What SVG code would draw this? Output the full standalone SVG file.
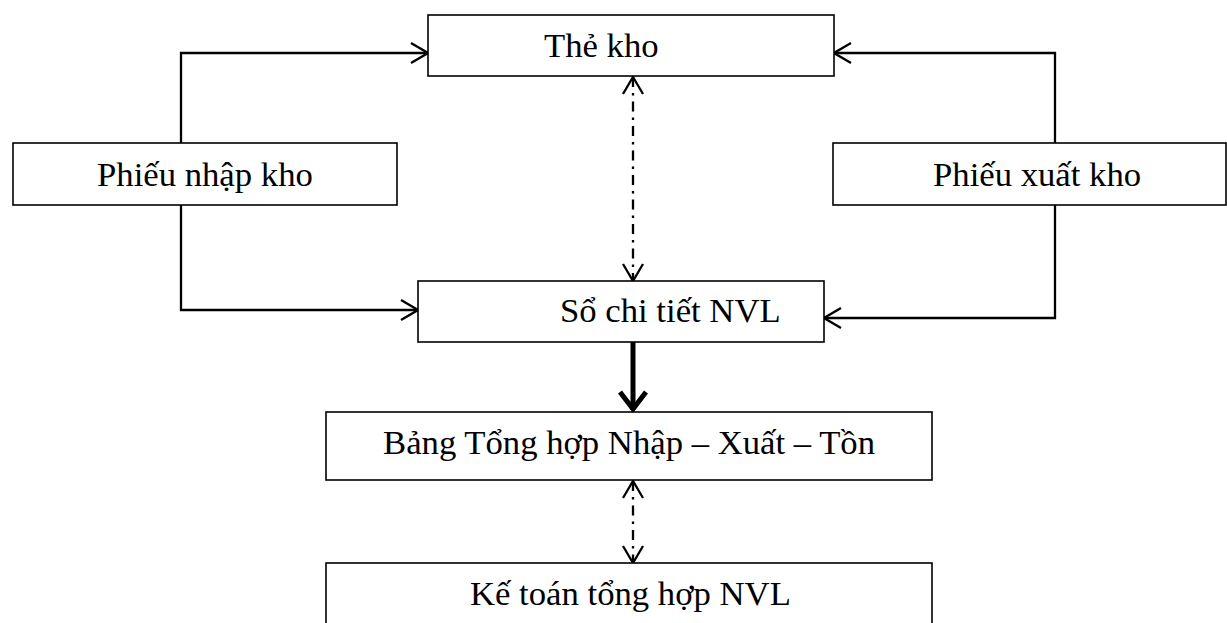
<svg xmlns="http://www.w3.org/2000/svg" width="1227" height="623" viewBox="0 0 1227 623">
  <style>
    .box { fill: #ffffff; stroke: #000000; stroke-width: 1.6; }
    .lbl { font-family: "Liberation Serif", "Times New Roman", serif; font-size: 34.7px; fill: #000000; }
    .conn { fill: none; stroke: #000000; stroke-width: 2.3; }
    .dash { stroke-dasharray: 10 6 2.5 6; }
    .bold { fill: none; stroke: #000000; stroke-width: 5; }
  </style>
  <defs>
    <marker id="arr" markerUnits="userSpaceOnUse" viewBox="0 0 20 24" markerWidth="20" markerHeight="24" refX="18" refY="12" orient="auto-start-reverse">
      <path d="M 1 2 L 18 12 L 1 22" fill="none" stroke="#000000" stroke-width="2.3" stroke-dasharray="none"/>
    </marker>
    <marker id="arrBold" markerUnits="userSpaceOnUse" viewBox="0 0 24 32" markerWidth="24" markerHeight="32" refX="21" refY="16" orient="auto">
      <path d="M 3 3 L 20 16 L 3 29" fill="none" stroke="#000000" stroke-width="5" stroke-linejoin="miter"/>
    </marker>
  </defs>

  <g id="connectors">
    <path class="conn" d="M 181 143 V 53 H 428" marker-end="url(#arr)"/>
    <path class="conn" d="M 181 205 V 310 H 418" marker-end="url(#arr)"/>
    <path class="conn" d="M 1055 143 V 53 H 834" marker-end="url(#arr)"/>
    <path class="conn" d="M 1055 205 V 318 H 824" marker-end="url(#arr)"/>
    <path class="conn dash" d="M 633 77 V 281" marker-start="url(#arr)" marker-end="url(#arr)"/>
    <path class="bold" d="M 633 342 V 410" marker-end="url(#arrBold)"/>
    <path class="conn dash" d="M 633 481 V 563" marker-start="url(#arr)" marker-end="url(#arr)"/>
  </g>

  <g id="the-kho">
    <rect class="box" x="428" y="15" width="406" height="61"/>
    <text class="lbl" x="544" y="57">Thẻ kho</text>
  </g>
  <g id="phieu-nhap-kho">
    <rect class="box" x="13" y="143" width="384" height="62"/>
    <text class="lbl" x="97" y="186">Phiếu nhập kho</text>
  </g>
  <g id="phieu-xuat-kho">
    <rect class="box" x="833" y="143" width="393" height="62"/>
    <text class="lbl" x="933" y="186">Phiếu xuất kho</text>
  </g>
  <g id="so-chi-tiet-nvl">
    <rect class="box" x="418" y="281" width="406" height="61"/>
    <text class="lbl" x="560" y="322">Sổ chi tiết NVL</text>
  </g>
  <g id="bang-tong-hop">
    <rect class="box" x="326" y="412" width="606" height="68"/>
    <text class="lbl" x="383" y="454">Bảng Tổng hợp Nhập – Xuất – Tồn</text>
  </g>
  <g id="ke-toan-tong-hop">
    <rect class="box" x="326" y="563" width="606" height="70"/>
    <text class="lbl" x="470" y="605">Kế toán tổng hợp NVL</text>
  </g>
</svg>
